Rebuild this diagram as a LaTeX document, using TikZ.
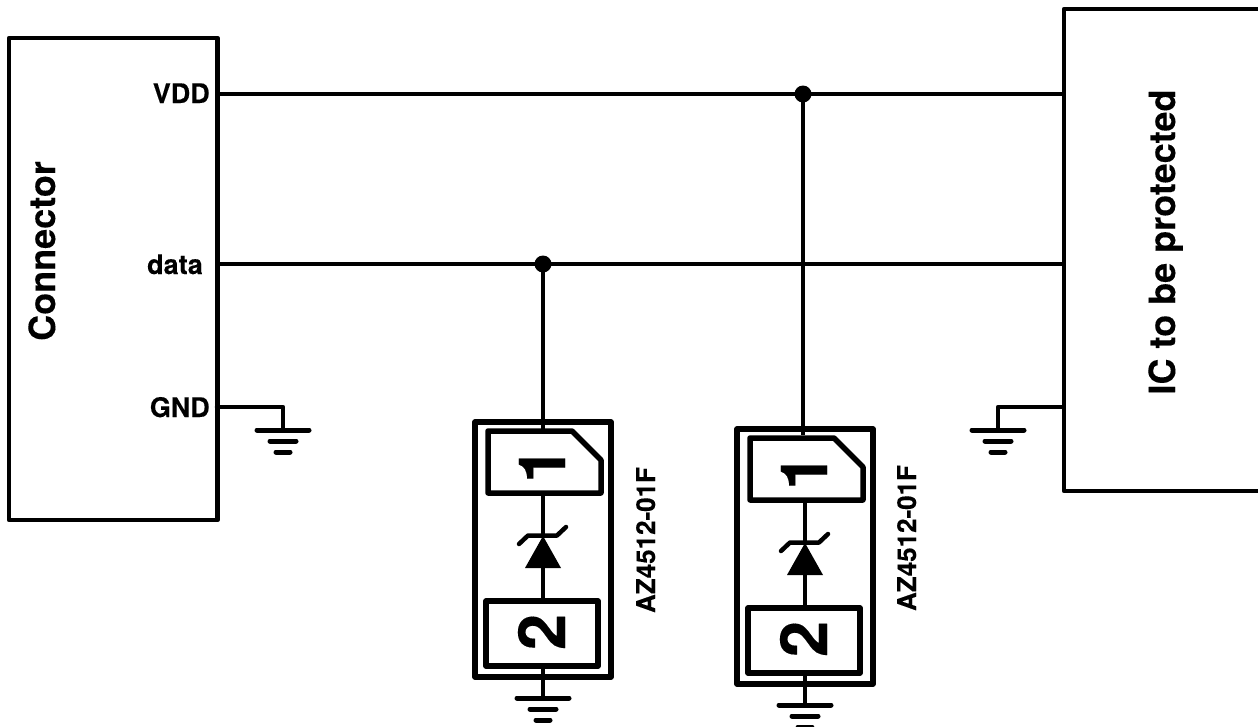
\documentclass[tikz,border=0pt]{standalone}
\usepackage{fontspec}
\setmainfont{TeX Gyre Heros}[BoldFeatures={FakeBold=0.2}]
\usetikzlibrary{calc}
\tikzset{
  px/.style={x=1pt,y=-1pt},
  wire/.style={line width=4.5pt,line cap=round,line join=round,black},
  thick box/.style={line width=5.5pt,line join=round,black},
  block/.style={draw,line width=4.5pt,line join=round,black,rectangle,inner sep=0pt,outer sep=0pt,anchor=north west},
  dotnode/.style={circle,fill=black,draw=none,minimum size=17pt,inner sep=0pt},
  gndbar/.style={line width=5pt,line cap=round,black},
  lab/.style={font=\bfseries\fontsize{27}{27}\selectfont,anchor=base east,inner sep=0pt},
  biglab/.style={font=\bfseries\fontsize{36}{36}\selectfont,anchor=base,rotate=90,inner sep=0pt},
  partlab/.style={font=\bfseries\fontsize{26}{26}\selectfont,anchor=base,rotate=90,inner sep=0pt},
  digit/.style={font=\bfseries\fontsize{65}{65}\selectfont,anchor=base,rotate=90,inner sep=0pt},
}
\newcommand{\gndsym}[1]{%
  \draw[gndbar] ($(#1)+(-26,0)$) -- ($(#1)+(26,0)$);
  \draw[gndbar] ($(#1)+(-13,11)$) -- ($(#1)+(13,11)$);
  \draw[gndbar] ($(#1)+(-7,22)$) -- ($(#1)+(7,22)$);
}
\newcommand{\tvscomp}[2]{%
  \begin{scope}[shift={(#2)}]
    \coordinate (#1out) at (543,677);
    \coordinate (#1in) at (543,431);
    \coordinate (#1boxb) at (543,493);
    \coordinate (#1apex) at (543,536);
    \coordinate (#1base) at (543,568);
    \coordinate (#1twot) at (543,601);
    \coordinate (#1twob) at (543,666);
    \coordinate (#1g) at (543,698);
    \draw[thick box] (475,422) rectangle (611,677);
    \draw[thick box] (488,431) -- (572,431) -- (601,460) -- (601,493) -- (488,493) -- cycle;
    \draw[thick box] (486,601) rectangle (598,666);
    \draw[wire,line cap=butt] (#1boxb) -- (#1apex);
    \draw[wire,line cap=butt] (#1base) -- (#1twot);
    \fill[black] (525,568) -- (561,568) -- (#1apex) -- cycle;
    \draw[wire] (519,544) -- (528,535.5) -- (557,535.5) -- (566,527);
    \draw[wire,line cap=butt] (#1twob) -- (#1out);
    \draw[wire,line cap=butt] (#1out) -- (#1g);
    \gndsym{#1g}
    \node[digit] (#1one) at (565,465) {1};
    \node[digit] (#1two) at (565,632) {2};
  \end{scope}
}
\begin{document}
\begin{tikzpicture}[px]
\useasboundingbox (0,0) rectangle (1258,726);
\clip (0,0) rectangle (1258,726);
\node[block,minimum width=208.5pt,minimum height=482pt] (conn) at (9,38) {};
\node[block,minimum width=205pt,minimum height=482pt] (ic) at (1064,9) {};
\coordinate (jv) at (803,94);
\coordinate (jd) at (543,264);
\coordinate (vl) at (217,94);
\coordinate (vr) at (1063,94);
\coordinate (dl) at (217,264);
\coordinate (dr) at (1063,264);
\coordinate (gl) at (217,407);
\coordinate (gr) at (1063,407);
\coordinate (glc) at (283,407);
\coordinate (grc) at (998,407);
\coordinate (glg) at (283,430);
\coordinate (grg) at (998,430);
\draw[wire,line cap=butt] (vl) -- (vr);
\draw[wire,line cap=butt] (dl) -- (dr);
\draw[wire] (gl) -- (glc) -- (glg);
\draw[wire] (gr) -- (grc) -- (grg);
\gndsym{glg}
\gndsym{grg}
\tvscomp{a}{0,0}
\tvscomp{b}{262,7}
\coordinate (bin) at (803,435);
\draw[wire,line cap=butt] (jd) -- (ain);
\draw[wire,line cap=butt] (jv) -- (bin);
\node[dotnode] (dotd) at (jd) {};
\node[dotnode] (dotv) at (jv) {};
\node[lab] (lvdd) at (210,103) {VDD};
\node[lab] (ldata) at (203,274) {data};
\node[lab] (lgnd) at (210,417) {GND};
\node[biglab] (lconn) at (55,251) {Connector};
\node[biglab] (lic) at (1175,242) {IC to be protected};
\node[partlab] (pa) at (655,540) {AZ4512-01F};
\node[partlab] (pb) at (916,538) {AZ4512-01F};
\end{tikzpicture}
\end{document}
